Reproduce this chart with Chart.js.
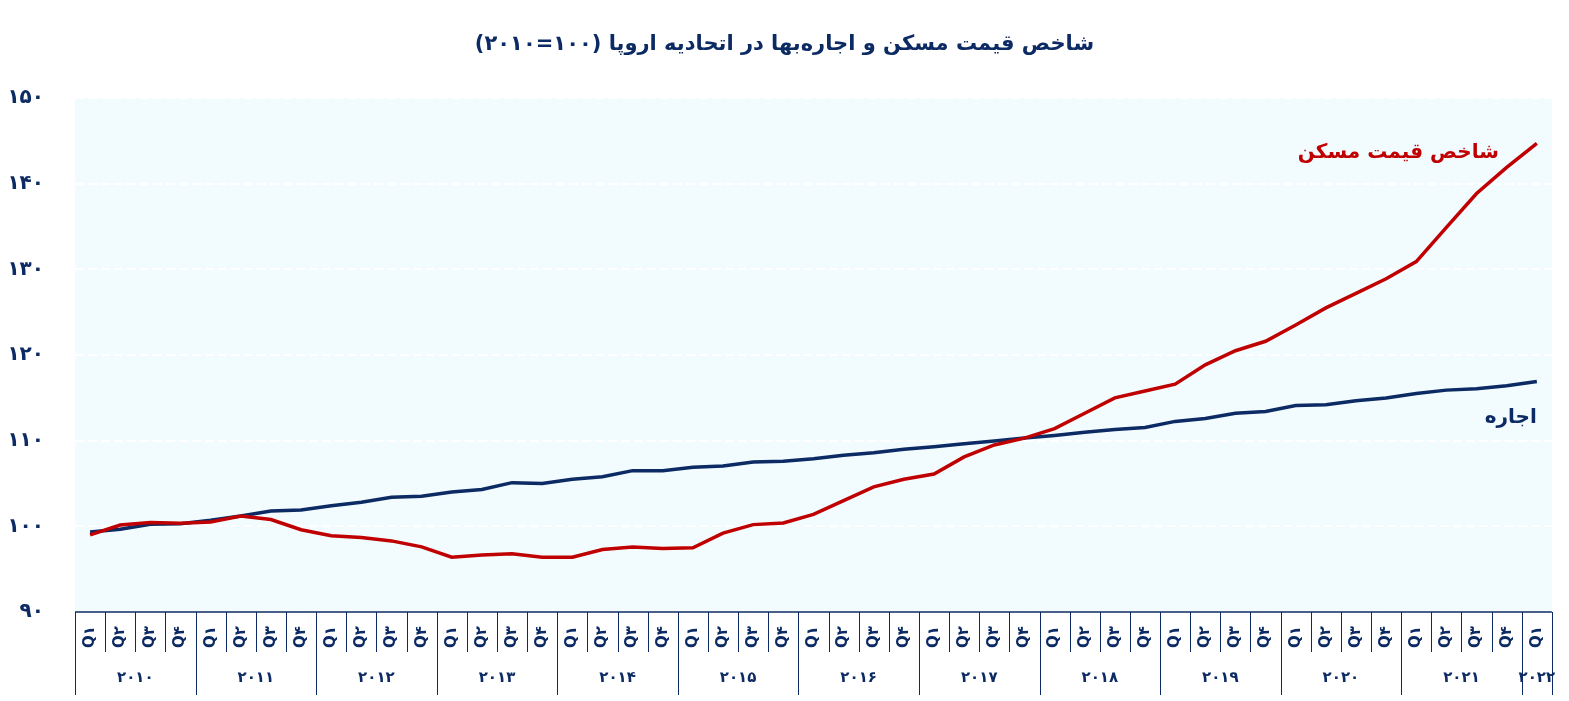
<!DOCTYPE html>
<html lang="fa">
<head>
<meta charset="utf-8">
<title>شاخص قیمت مسکن و اجاره‌بها</title>
<script src="https://cdn.jsdelivr.net/npm/chart.js"></script>
<style>
  html, body { margin: 0; padding: 0; background: #fff; }
  .chart-wrapper { width: 1569px; height: 701px; }
</style>
</head>
<body>
<div class="chart-wrapper">
  <canvas id="euHousingChart"></canvas>
</div>
<script>
const titleMain = "شاخص قیمت مسکن و اجاره‌بها در اتحادیه اروپا";
const titleBase = ["۲۰۱۰", "۱۰۰"]; // (۲۰۱۰=۱۰۰)
const years = ["۲۰۱۰", "۲۰۱۱", "۲۰۱۲", "۲۰۱۳", "۲۰۱۴", "۲۰۱۵", "۲۰۱۶", "۲۰۱۷", "۲۰۱۸", "۲۰۱۹", "۲۰۲۰", "۲۰۲۱", "۲۰۲۲"];
const quarters = ["Q۱", "Q۲", "Q۳", "Q۴"];
const seriesNames = ["شاخص قیمت مسکن", "اجاره"];

// شاخص قیمت مسکن
const housePrice = [
  99.0, 100.15, 100.45, 100.35, 100.5, 101.2, 100.8, 99.6,
  98.9, 98.7, 98.3, 97.6, 96.4, 96.65, 96.8, 96.4,
  96.4, 97.3, 97.6, 97.4, 97.5, 99.2, 100.2, 100.4,
  101.4, 103.0, 104.6, 105.5, 106.1, 108.1, 109.5, 110.3,
  111.4, 113.2, 115.0, 115.8, 116.6, 118.85, 120.5, 121.6,
  123.5, 125.5, 127.2, 128.9, 130.9, 134.9, 138.85, 141.9,
  144.7,
];

// اجاره
const rent = [
  99.35, 99.67, 100.25, 100.3, 100.7, 101.2, 101.8, 101.9,
  102.4, 102.8, 103.4, 103.5, 104.0, 104.3, 105.1, 105.0,
  105.5, 105.8, 106.5, 106.5, 106.9, 107.05, 107.5, 107.6,
  107.9, 108.3, 108.6, 109.0, 109.3, 109.65, 109.96, 110.3,
  110.6, 110.97, 111.3, 111.55, 112.25, 112.6, 113.2, 113.4,
  114.1, 114.2, 114.65, 114.97, 115.5, 115.9, 116.06, 116.4,
  116.9,
];

const yMin = 90;
const yMax = 150;
const yStep = 10;

const NAVY = "#0c2a63";
const RED = "#c00000";
const FONT = "'DejaVu Sans', 'Noto Sans', sans-serif";

const faDigits = "۰۱۲۳۴۵۶۷۸۹";
const toFa = (n) => String(n).replace(/\d/g, (d) => faDigits[d]);

// one label per quarter, cut to the length of the data
const categories = [];
years.forEach((yr) => {
  quarters.forEach((q) => {
    if (categories.length < housePrice.length) categories.push(q);
  });
});

// draws the title piece by piece, left to right, so the bidi
// algorithm can't flip the numbers inside the brackets
function drawTitle(ctx, cx, cy) {
  const pieces = ["(", titleBase[0], "=", titleBase[1], ")", " ", titleMain];
  ctx.font = `bold 21px ${FONT}`;
  ctx.textAlign = "left";
  ctx.textBaseline = "middle";
  const widths = pieces.map((p) => ctx.measureText(p).width);
  let px = cx - widths.reduce((s, w) => s + w, 0) / 2;
  pieces.forEach((p, i) => {
    ctx.direction = i === pieces.length - 1 ? "rtl" : "ltr";
    ctx.fillText(p, px, cy);
    px += widths[i];
  });
}

const decorPlugin = {
  id: "decor",
  beforeDraw(chart) {
    const { ctx, chartArea: a } = chart;
    ctx.save();
    ctx.fillStyle = "#f2fbfe";
    ctx.fillRect(a.left, a.top, a.width, a.height);
    ctx.restore();
  },
  afterDraw(chart) {
    const { ctx, chartArea: a } = chart;
    const x = chart.scales.x;
    const n = categories.length;
    const half = (x.getPixelForValue(1) - x.getPixelForValue(0)) / 2;
    const edge = (i) => (i < n ? x.getPixelForValue(i) - half : x.getPixelForValue(n - 1) + half);

    ctx.save();

    // axis line
    ctx.strokeStyle = NAVY;
    ctx.lineWidth = 1.5;
    ctx.beginPath();
    ctx.moveTo(a.left, a.bottom);
    ctx.lineTo(a.right, a.bottom);
    ctx.stroke();

    // quarter and year separators
    ctx.lineWidth = 1;
    for (let i = 0; i <= n; i++) {
      const px = Math.round(edge(i)) + 0.5;
      const len = i % 4 === 0 || i === n ? 83 : 40;
      ctx.beginPath();
      ctx.moveTo(px, a.bottom);
      ctx.lineTo(px, a.bottom + len);
      ctx.stroke();
    }

    // year labels
    ctx.fillStyle = NAVY;
    ctx.font = `bold 15px ${FONT}`;
    ctx.textAlign = "center";
    ctx.textBaseline = "middle";
    years.forEach((yr, k) => {
      const first = k * 4;
      if (first >= n) return;
      const last = Math.min(first + 3, n - 1);
      ctx.fillText(yr, (edge(first) + edge(last + 1)) / 2, a.bottom + 66);
    });

    drawTitle(ctx, chart.width / 2, 45);

    // series labels, hung off the last point of each line
    const redEnd = chart.getDatasetMeta(0).data[n - 1];
    const blueEnd = chart.getDatasetMeta(1).data[n - 1];
    ctx.direction = "rtl";
    ctx.textAlign = "right";
    ctx.font = `bold 20px ${FONT}`;
    ctx.fillStyle = RED;
    ctx.fillText(seriesNames[0], redEnd.x - 38, redEnd.y + 9);
    ctx.fillStyle = NAVY;
    ctx.fillText(seriesNames[1], blueEnd.x, blueEnd.y + 36);

    ctx.restore();
  },
};

const ctx = document.getElementById("euHousingChart").getContext("2d");
new Chart(ctx, {
  type: "line",
  data: {
    labels: categories,
    datasets: [
      {
        label: seriesNames[0],
        data: housePrice,
        borderColor: RED,
        borderWidth: 3.5,
        pointRadius: 0,
        tension: 0,
      },
      {
        label: seriesNames[1],
        data: rent,
        borderColor: NAVY,
        borderWidth: 3.5,
        pointRadius: 0,
        tension: 0,
      },
    ],
  },
  options: {
    responsive: true,
    maintainAspectRatio: false,
    animation: false,
    layout: { padding: { top: 98, right: 16, left: 0, bottom: 0 } },
    plugins: {
      legend: { display: false },
      title: { display: false },
      tooltip: { enabled: false },
    },
    scales: {
      x: {
        offset: true,
        grid: { display: false, drawTicks: false },
        border: { display: false },
        ticks: {
          autoSkip: false,
          minRotation: 90,
          maxRotation: 90,
          padding: 14,
          color: NAVY,
          font: { family: FONT, size: 15, weight: "bold" },
        },
        afterFit(scale) { scale.height = 89; },
      },
      y: {
        min: yMin,
        max: yMax,
        grid: { color: "#ffffff", lineWidth: 2, drawTicks: false },
        border: { display: false, dash: [9, 4] },
        ticks: {
          stepSize: yStep,
          padding: 31,
          color: NAVY,
          font: { family: FONT, size: 20, weight: "bold" },
          callback: (v) => toFa(v),
        },
        afterFit(scale) { scale.width = 75; },
      },
    },
  },
  plugins: [decorPlugin],
});
</script>
</body>
</html>
